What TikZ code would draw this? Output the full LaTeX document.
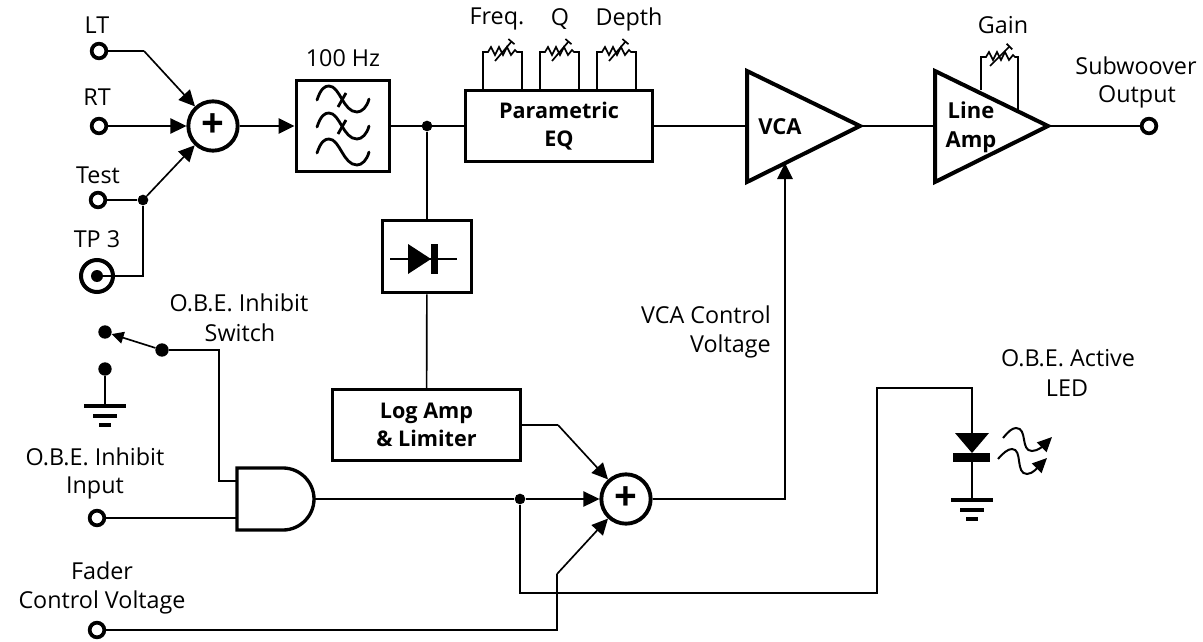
\documentclass[tikz,border=0pt]{standalone}
\usepackage{fontspec}
\setmainfont{Open Sans}
\usetikzlibrary{arrows.meta}
\tikzset{
    label text/.style={font=\fontsize{17.5}{20}\selectfont, inner sep=0pt},
    bold text/.style={font=\fontsize{16.5}{20}\selectfont\bfseries, inner sep=0pt},
    block/.style={draw, line width=2.7pt, inner sep=0pt, align=center, font=\fontsize{16.2}{20.5}\selectfont\bfseries},
    terminal/.style={draw, circle, line width=2.8pt, minimum size=11pt, inner sep=0pt},
    junction/.style={circle, fill, minimum size=8pt, inner sep=0pt},
    summer/.style={draw, circle, line width=2.9pt, fill=white, minimum size=37pt, inner sep=0pt, font=\fontsize{30}{30}\selectfont\bfseries},
    wire/.style={line width=1.25pt},
    thick wire/.style={line width=3pt, line join=miter},
    pics/potsym/.style={code={
        \draw[wire] (0,37) -- (0,0) -- (5,0) -- (8,-5) -- (12,3) -- (16,-5) -- (20,3) -- (24,-5) -- (28,3) -- (32,-2) -- (34,0) -- (39,0) -- (39,37);
        \draw[wire, -{Bar[width=6pt,length=0pt]}] (12,9) -- (29,-11);
    }},
    pics/groundsym/.style={code={
        \draw[line width=2.3pt] (-21,0) -- (21,0) (-12,10) -- (12,10) (-6,19) -- (6,19);
    }},
    pics/wavesym/.style={code={
        \draw[line width=2.1pt, line cap=round] (0,14) .. controls (4,2) and (8,0) .. (12,0) .. controls (23,0) and (26,26) .. (40,26) .. controls (45,26) and (50,21) .. (52,13);
    }},
    pics/crosssym/.style={code={
        \draw[line width=2.1pt] (29,7) -- (21,21);
    }},
}

\begin{document}
\begin{tikzpicture}[x=0.75pt, y=-0.75pt, >={Triangle[length=12pt,width=11.5pt]}]
    \useasboundingbox (0,0) rectangle (1203,642);

    % Input terminals
    \node[terminal] (inLT) at (99,51) {};
    \node[terminal] (inRT) at (99,126) {};
    \node[terminal] (inTest) at (98,200) {};
    \node[draw, circle, line width=3pt, minimum size=24pt, inner sep=0pt] (tpJack) at (97,276) {};
    \node[junction, minimum size=9pt] (tpCore) at (97,276) {};
    \node[terminal] (inInhibit) at (97,518) {};
    \node[terminal] (inFader) at (97,630) {};
    \node[terminal] (outSub) at (1149,126) {};

    % Input labels
    \node[label text] (lblLT) at (97,25) {LT};
    \node[label text] (lblRT) at (97,97) {RT};
    \node[label text] (lblTest) at (98,175) {Test};
    \node[label text] (lblTP) at (97,239) {TP 3};
    \node[label text] (lblSwA) at (239,303) {O.B.E. Inhibit};
    \node[label text] (lblSwB) at (240,333) {Switch};
    \node[label text] (lblInA) at (95,457) {O.B.E. Inhibit};
    \node[label text] (lblInB) at (95,488) {Input};
    \node[label text] (lblFaA) at (102,571) {Fader};
    \node[label text] (lblFaB) at (102,602) {Control Voltage};

    % Upper row labels
    \node[label text] (lblHz) at (343,58) {100 Hz};
    \node[label text] (lblFreq) at (497,19) {Freq.};
    \node[label text] (lblQ) at (560,19) {Q};
    \node[label text] (lblDepth) at (629,19) {Depth};
    \node[label text] (lblGain) at (1003,25) {Gain};
    \node[label text] (lblOutA) at (1136,66) {Subwoover};
    \node[label text] (lblOutB) at (1137,97) {Output};
    \node[label text, anchor=east] (lblVcaA) at (771,315) {VCA Control};
    \node[label text, anchor=east] (lblVcaB) at (771,346) {Voltage};
    \node[label text] (lblLedA) at (1068,358) {O.B.E. Active};
    \node[label text] (lblLedB) at (1067,388) {LED};

    % Blocks
    \node[summer] (sumA) at (213,126) {+};
    \node[summer] (sumB) at (626,499) {+};
    \node[block, minimum width=70pt, minimum height=68pt] (filter) at (343,126) {};
    \node[block, minimum width=140pt, minimum height=53pt] (eq) at (559,126) {Parametric\\EQ};
    \node[block, minimum width=67pt, minimum height=54pt] (rectifier) at (427,256.5) {};
    \node[block, minimum width=141pt, minimum height=53pt] (logAmp) at (426.5,425) {Log Amp\\\& Limiter};

    % Filter curves
    \pic at (317,86) {wavesym};
    \pic at (317,86) {crosssym};
    \pic at (317,113) {wavesym};
    \pic at (317,113) {crosssym};
    \pic at (317,139) {wavesym};

    % Rectifier symbol
    \draw[line width=2.2pt] (390,259) -- (457,259);
    \fill (408,244) -- (431,259) -- (408,274) -- cycle;
    \fill (431,244) rectangle (438,274);

    % Pots
    \pic at (483,52) {potsym};
    \pic at (540,52) {potsym};
    \pic at (597,52) {potsym};
    \draw[wire] (981,90) -- (981,57) -- (986,57) -- (989,52) -- (993,60) -- (997,52) -- (1001,60) -- (1005,52) -- (1009,60) -- (1013,55) -- (1015,57) -- (1018,57) -- (1018,110);
    \draw[wire, -{Bar[width=6pt,length=0pt]}] (990,66) -- (1010,46);

    % Amplifiers
    \coordinate (vcaIn) at (747,126);
    \coordinate (vcaOut) at (860,126);
    \coordinate (vcaCtl) at (785,163);
    \coordinate (ampIn) at (935,126);
    \coordinate (ampOut) at (1048,126);
    \draw[thick wire] (747,71) -- (860,126) -- (747,182) -- cycle;
    \draw[thick wire] (935,71) -- (1048,126) -- (935,182) -- cycle;
    \node[bold text] (lblVca) at (780,127) {VCA};
    \node[bold text] (lblLine) at (971,110) {Line};
    \node[bold text] (lblAmp) at (971,142) {Amp};

    % AND gate
    \coordinate (andA) at (237,481);
    \coordinate (andB) at (237,518);
    \coordinate (andOut) at (314,499);
    \draw[line width=2.5pt] (237,468) -- (283,468) .. controls (300,468) and (314,482) .. (314,499) .. controls (314,516) and (300,530) .. (283,530) -- (237,530) -- cycle;

    % Upper signal path
    \coordinate (bendLT) at (144,51);
    \node[junction] (jnTest) at (143,200) {};
    \node[junction] (jnFilter) at (427,126) {};
    \draw[wire] (inLT) -- (bendLT);
    \draw[wire, ->] (bendLT) -- (sumA);
    \draw[wire, ->] (inRT) -- (sumA);
    \draw[wire] (inTest) -- (jnTest);
    \draw[wire, ->] (jnTest) -- (sumA);
    \draw[wire] (tpCore) -| (jnTest);
    \draw[wire, ->] (sumA) -- (filter);
    \draw[wire] (filter) -- (eq);
    \draw[wire] (eq) -- (vcaIn);
    \draw[wire] (vcaOut) -- (ampIn);
    \draw[wire] (ampOut) -- (outSub);
    \draw[wire] (jnFilter) -- (rectifier);
    \draw[wire] (rectifier) -- (logAmp);

    % Inhibit switch
    \node[junction, minimum size=10pt] (swPole) at (162,350) {};
    \node[junction, minimum size=10pt] (swTop) at (105,332) {};
    \node[junction, minimum size=10pt] (swGnd) at (105,369) {};
    \coordinate (swBase) at (105,406);
    \coordinate (swDrop) at (219,481);
    \draw[wire, -{Triangle[length=9pt,width=9pt]}] (swPole) -- (swTop);
    \draw[wire] (swGnd) -- (swBase);
    \pic at (swBase) {groundsym};
    \draw[wire] (swPole) -| (swDrop) -- (andA);
    \draw[wire] (inInhibit) -- (andB);

    % Lower signal path
    \coordinate (logOut) at (558,425);
    \coordinate (fadeA) at (557,630);
    \coordinate (fadeB) at (557,574);
    \coordinate (ledRunA) at (877,593);
    \coordinate (ledRunB) at (972,388);
    \coordinate (ledTop) at (972,433);
    \node[junction] (jnAnd) at (520,499) {};
    \draw[wire] (logAmp) -- (logOut);
    \draw[wire, ->] (logOut) -- (sumB);
    \draw[wire] (andOut) -- (jnAnd);
    \draw[wire, ->] (jnAnd) -- (sumB);
    \draw[wire] (inFader) -- (fadeA) -- (fadeB);
    \draw[wire, ->] (fadeB) -- (sumB);
    \draw[wire] (jnAnd) |- (ledRunA) |- (ledRunB) -- (ledTop);
    \draw[wire, ->] (sumB) -| (vcaCtl);

    % LED
    \coordinate (ledBase) at (972,500);
    \fill (955,433) -- (989,433) -- (972,453) -- cycle;
    \fill (953,453) rectangle (990,462);
    \draw[line width=1.6pt] (ledTop |- 0,462) -- (ledBase);
    \pic at (ledBase) {groundsym};
    \draw[line width=1.5pt, -{Triangle[length=11pt,width=10pt]}] (1003,438) .. controls (1008,432) and (1012,428) .. (1016,428) .. controls (1028,428) and (1020,451) .. (1032,451) .. controls (1038,451) and (1044,445) .. (1052,437);
    \draw[line width=1.5pt, -{Triangle[length=11pt,width=10pt]}] (998,459) .. controls (1003,453) and (1008,449) .. (1012,449) .. controls (1023,449) and (1015,474) .. (1027,474) .. controls (1033,474) and (1039,466) .. (1047,458);
\end{tikzpicture}
\end{document}
